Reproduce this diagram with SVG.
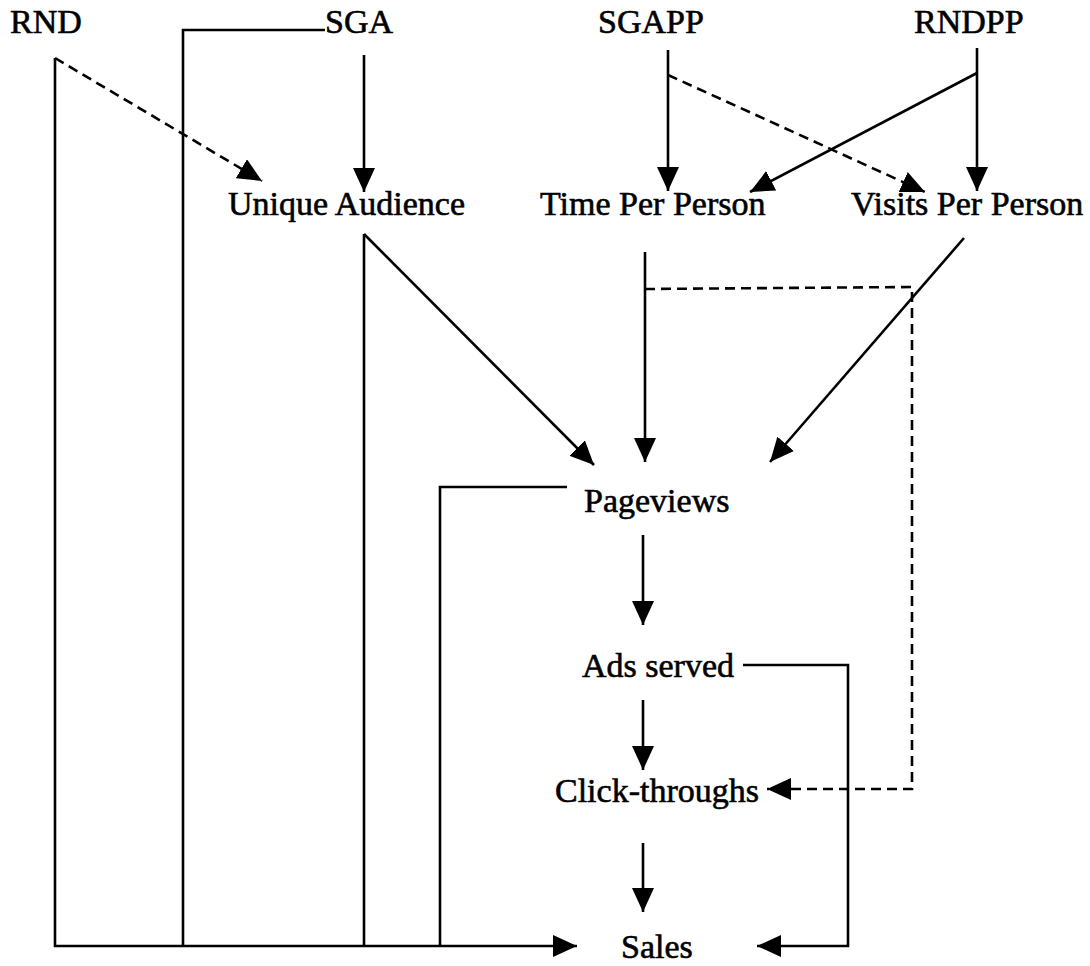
<svg xmlns="http://www.w3.org/2000/svg" width="1090" height="966" viewBox="0 0 1090 966">
<defs>
<style>
text{font-family:"Liberation Serif","Times New Roman",serif;font-size:34px;fill:#000;stroke:#000;stroke-width:0.6;}
.c{fill:none;stroke:#000;stroke-width:2.6;}
.d{stroke-dasharray:10 6;}
.a{marker-end:url(#ah);}
</style>
<marker id="ah" markerUnits="userSpaceOnUse" viewBox="0 0 24 22" refX="24" refY="11" markerWidth="24" markerHeight="22" orient="auto">
<path d="M0,0 L24,11 L0,22 z" fill="#000"/>
</marker>
</defs>
<rect width="1090" height="966" fill="#fff"/>
<g id="connectors">
<path class="c a" d="M55,58 L55,946 L577,946"/>
<path class="c d a" d="M55,58 L262,181"/>
<path class="c" d="M325,30 L183,30 L183,946"/>
<path class="c a" d="M364,55 L364,192"/>
<path class="c a" d="M668,50 L668,191"/>
<path class="c d a" d="M668,75 L925,192"/>
<path class="c a" d="M977,48 L977,191"/>
<path class="c a" d="M977,73 L750,192"/>
<path class="c" d="M364,234 L364,946"/>
<path class="c a" d="M364,234 L594,465"/>
<path class="c a" d="M645,252 L645,462"/>
<path class="c d a" d="M645,289 L912,287 L912,789 L767,789"/>
<path class="c a" d="M964,238 L770,462"/>
<path class="c" d="M567,487 L440,487 L440,946"/>
<path class="c a" d="M643,535 L643,625"/>
<path class="c a" d="M743,665 L848,665 L848,946 L757,946"/>
<path class="c a" d="M643,700 L643,770"/>
<path class="c a" d="M643,843 L643,912"/>
</g>
<g id="RND"><text x="10" y="33">RND</text></g>
<g id="SGA"><text x="325" y="33">SGA</text></g>
<g id="SGAPP"><text x="598" y="33">SGAPP</text></g>
<g id="RNDPP"><text x="914" y="33">RNDPP</text></g>
<g id="unique-audience"><text x="228" y="215">Unique Audience</text></g>
<g id="time-per-person"><text x="540" y="215">Time Per Person</text></g>
<g id="visits-per-person"><text x="851" y="215">Visits Per Person</text></g>
<g id="pageviews"><text x="584" y="512">Pageviews</text></g>
<g id="ads-served"><text x="582" y="677">Ads served</text></g>
<g id="click-throughs"><text x="555" y="802">Click-throughs</text></g>
<g id="sales"><text x="621" y="958">Sales</text></g>
</svg>
